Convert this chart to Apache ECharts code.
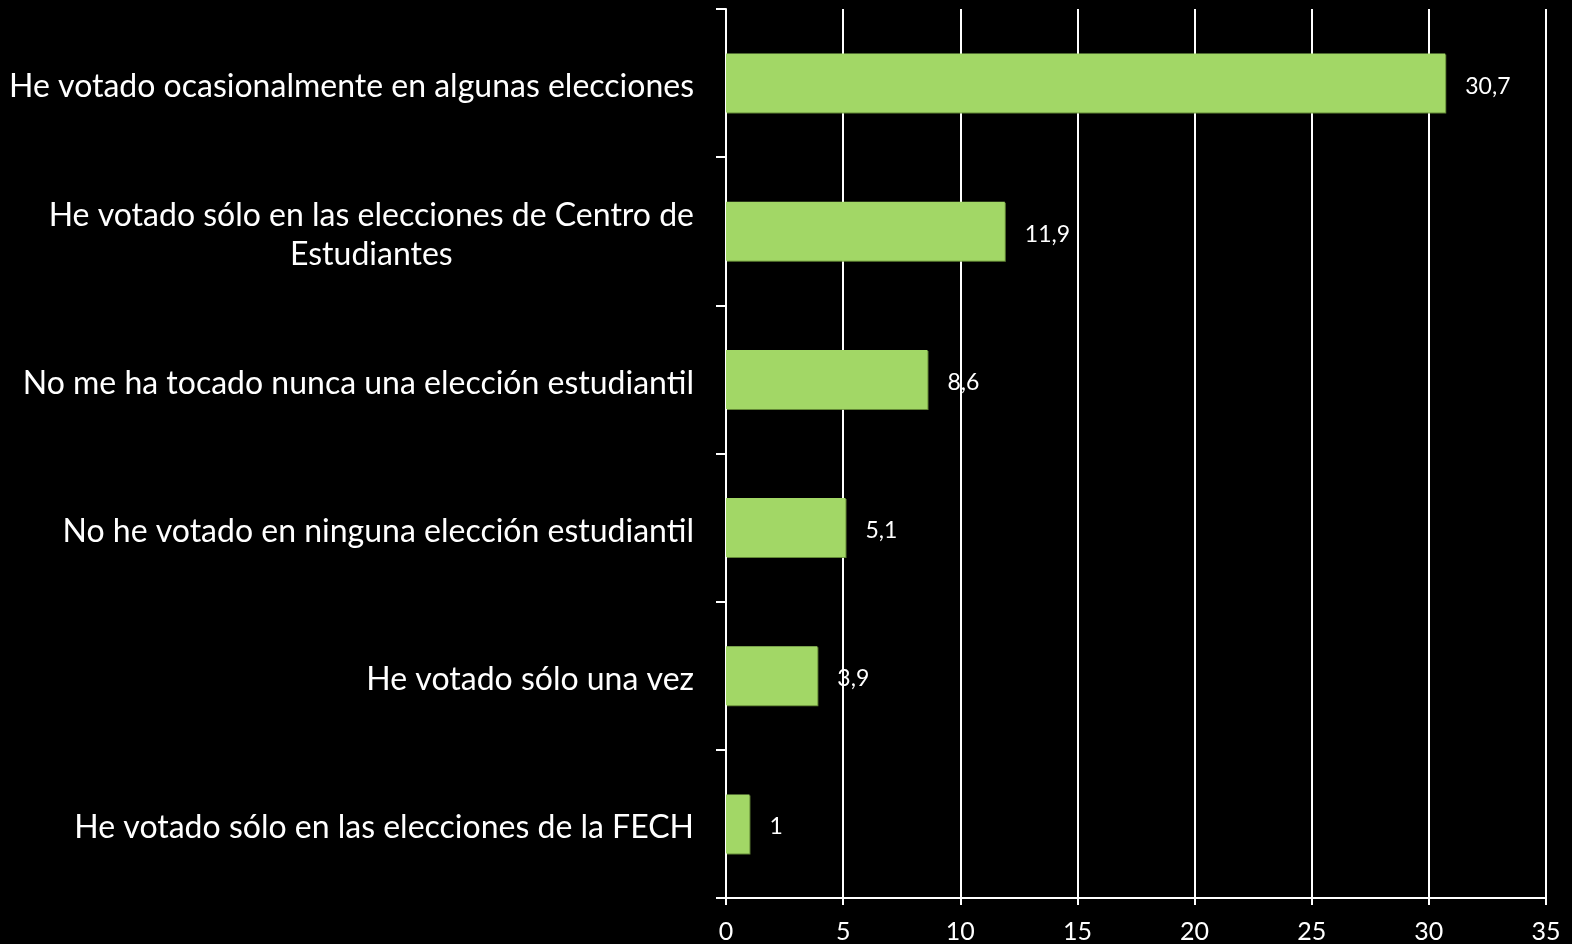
<!DOCTYPE html>
<html>
<head>
<meta charset="utf-8">
<style>
  html, body { margin: 0; padding: 0; background: #000; }
  #chart { width: 1572px; height: 944px; }
</style>
<script src="https://cdn.jsdelivr.net/npm/echarts@6/dist/echarts.min.js"></script>
</head>
<body>
<div id="chart"></div>
<script>
// Voting participation in student elections (%)
const categories = [
  'He votado ocasionalmente en algunas elecciones',
  'He votado sólo en las elecciones de Centro de\nEstudiantes',
  'No me ha tocado nunca una elección estudiantil',
  'No he votado en ninguna elección estudiantil',
  'He votado sólo una vez',
  'He votado sólo en las elecciones de la FECH'
];
const values = [30.7, 11.9, 8.6, 5.1, 3.9, 1];
const xTicks = [0, 5, 10, 15, 20, 25, 30, 35];

const FONT = 'Lato, "Open Sans", sans-serif';
const chart = echarts.init(document.getElementById('chart'), null, { renderer: 'canvas' });

chart.setOption({
  backgroundColor: '#000000',
  animation: false,
  grid: { left: 726, right: 26, top: 9, bottom: 45, containLabel: false },
  xAxis: {
    type: 'value',
    min: xTicks[0],
    max: xTicks[xTicks.length - 1],
    interval: xTicks[1] - xTicks[0],
    axisLine: { show: true, lineStyle: { color: '#ffffff', width: 2 } },
    axisTick: { show: true, length: 7, inside: false, lineStyle: { color: '#ffffff', width: 2 } },
    splitLine: { show: true, lineStyle: { color: '#ffffff', width: 2 } },
    axisLabel: { color: '#ffffff', fontFamily: FONT, fontSize: 25, margin: 21 }
  },
  yAxis: {
    type: 'category',
    inverse: true,
    data: categories,
    axisLine: { show: true, onZero: false, lineStyle: { color: '#ffffff', width: 2 } },
    axisTick: { show: true, length: 10, alignWithLabel: false, lineStyle: { color: '#ffffff', width: 2 } },
    splitLine: { show: false },
    axisLabel: {
      margin: 32,
      formatter: v => '{t|' + v + '}',
      rich: {
        t: { color: '#ffffff', fontFamily: FONT, fontSize: 32, lineHeight: 39, align: 'center', padding: [8, 0, 0, 0] }
      }
    }
  },
  series: [{
    type: 'bar',
    data: values,
    barWidth: 59,
    itemStyle: {
      color: '#a2d766',
      shadowColor: 'rgba(110,150,60,0.9)',
      shadowOffsetX: 1,
      shadowOffsetY: 1
    },
    label: {
      show: true,
      position: 'right',
      distance: 20,
      offset: [0, 3],
      color: '#ffffff',
      fontFamily: FONT,
      fontSize: 23,
      formatter: p => String(p.value).replace('.', ',')
    }
  }]
});
</script>
</body>
</html>
